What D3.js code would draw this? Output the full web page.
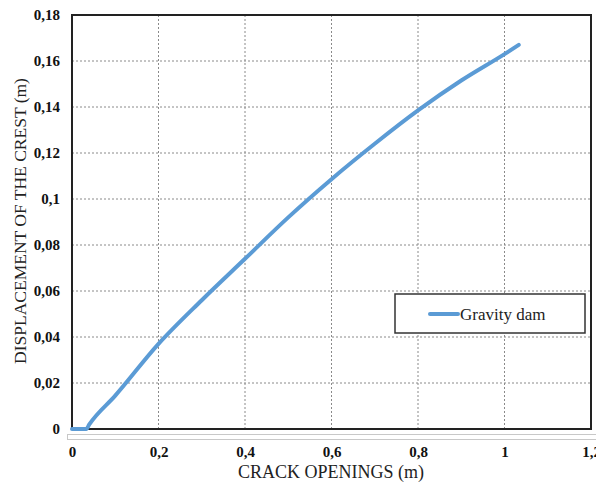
<!DOCTYPE html>
<html>
<head>
<meta charset="utf-8">
<script src="https://cdn.jsdelivr.net/npm/d3@7"></script>
<style>
  body { margin: 0; background: #fff; }
  svg text { font-family: "Liberation Serif", "Times New Roman", Times, serif; }
</style>
</head>
<body>
<div id="chart"></div>
<script>
// crack opening (m) vs crest displacement (m)
const crackOpening = [0, 0.033, 0.04, 0.1, 0.2, 0.3, 0.4, 0.5, 0.6, 0.7, 0.8, 0.9, 1.0, 1.033]
const crestDisp    = [0, 0, 0.002, 0.0145, 0.037, 0.056, 0.074, 0.092, 0.1086, 0.124, 0.1385, 0.1515, 0.163, 0.167]
const xTicks = [0, 0.2, 0.4, 0.6, 0.8, 1, 1.2]
const yTicks = [0, 0.02, 0.04, 0.06, 0.08, 0.1, 0.12, 0.14, 0.16, 0.18]
const seriesName = 'Gravity dam'

const W = 596, H = 484
const margin = { left: 72, top: 15 }
const FONT = '"Liberation Serif", "Times New Roman", Times, serif'

const fmt = d => String(d).replace('.', ',')

const svg = d3.select('#chart')
    .append('svg')
    .attr('width', W)
    .attr('height', H)

const g = svg.append('g')
    .attr('transform', `translate(${margin.left}, ${margin.top})`)

const xScale = d3.scaleLinear().domain([0, 1.2]).range([0, 519])
const yScale = d3.scaleLinear().domain([0, 0.18]).range([414, 0])

// light gray band under the plot (excel axis box)
svg.append('rect')
    .attr('x', 67.5)
    .attr('y', 434.5)
    .attr('width', 540)
    .attr('height', 5)
    .attr('fill', 'none')
    .attr('stroke', '#c8c8c8')
    .attr('stroke-width', 1)

// grid
g.append('g')
    .selectAll('line')
    .data(xTicks.slice(1, -1))
    .join('line')
    .attr('x1', d => xScale(d)).attr('x2', d => xScale(d))
    .attr('y1', 0).attr('y2', yScale(0))
    .attr('stroke', '#8a8a8a')
    .attr('stroke-width', 1)
    .attr('stroke-dasharray', '2,2')
g.append('g')
    .selectAll('line')
    .data(yTicks.slice(1, -1))
    .join('line')
    .attr('x1', 0).attr('x2', xScale(1.2))
    .attr('y1', d => yScale(d)).attr('y2', d => yScale(d))
    .attr('stroke', '#8a8a8a')
    .attr('stroke-width', 1)
    .attr('stroke-dasharray', '2,2')

// plot border
g.append('rect')
    .attr('x', 0)
    .attr('y', 0)
    .attr('width', xScale(1.2))
    .attr('height', yScale(0))
    .attr('fill', 'none')
    .attr('stroke', '#222')
    .attr('stroke-width', 2)

// axes (labels only)
const xaxis = d3.axisBottom(xScale).tickValues(xTicks).tickFormat(fmt).tickSize(0).tickPadding(17)
const yaxis = d3.axisLeft(yScale).tickValues(yTicks).tickFormat(fmt).tickSize(0).tickPadding(12)

g.append('g')
    .attr('transform', `translate(0, ${yScale(0)})`)
    .call(xaxis)
    .attr('font-family', FONT)
    .attr('font-size', 15)
    .attr('font-weight', 'bold')
    .call(a => a.select('.domain').remove())
    .selectAll('text')
    .attr('fill', '#111')

g.append('g')
    .call(yaxis)
    .attr('font-family', FONT)
    .attr('font-size', 15)
    .attr('font-weight', 'bold')
    .call(a => a.select('.domain').remove())
    .selectAll('text')
    .attr('fill', '#111')

// line
const data = crackOpening.map((x, i) => ({ x: x, y: crestDisp[i] }))
const line = d3.line()
    .x(d => xScale(d.x))
    .y(d => yScale(d.y))
    .curve(d3.curveMonotoneX)
g.append('path')
    .datum(data)
    .attr('d', line)
    .attr('fill', 'none')
    .attr('stroke', '#5b9bd5')
    .attr('stroke-width', 4)
    .attr('stroke-linejoin', 'round')
    .attr('stroke-linecap', 'round')

// axis titles
svg.append('text')
    .attr('x', 331)
    .attr('y', 478)
    .attr('text-anchor', 'middle')
    .attr('font-family', FONT)
    .attr('font-size', 18)
    .attr('fill', '#222')
    .text('CRACK OPENINGS (m)')
svg.append('text')
    .attr('transform', 'rotate(-90)')
    .attr('x', -221)
    .attr('y', 26)
    .attr('text-anchor', 'middle')
    .attr('font-family', FONT)
    .attr('font-size', 17.5)
    .attr('fill', '#222')
    .text('DISPLACEMENT OF THE CREST (m)')

// legend
const legend = svg.append('g')
legend.append('rect')
    .attr('x', 395)
    .attr('y', 294)
    .attr('width', 190)
    .attr('height', 39)
    .attr('fill', '#fff')
    .attr('stroke', '#333')
    .attr('stroke-width', 1.5)
legend.append('line')
    .attr('x1', 430).attr('x2', 458)
    .attr('y1', 314).attr('y2', 314)
    .attr('stroke', '#5b9bd5')
    .attr('stroke-width', 4)
    .attr('stroke-linecap', 'round')
legend.append('text')
    .attr('x', 460)
    .attr('y', 320)
    .attr('font-family', FONT)
    .attr('font-size', 17)
    .attr('fill', '#222')
    .text(seriesName)
</script>
</body>
</html>
